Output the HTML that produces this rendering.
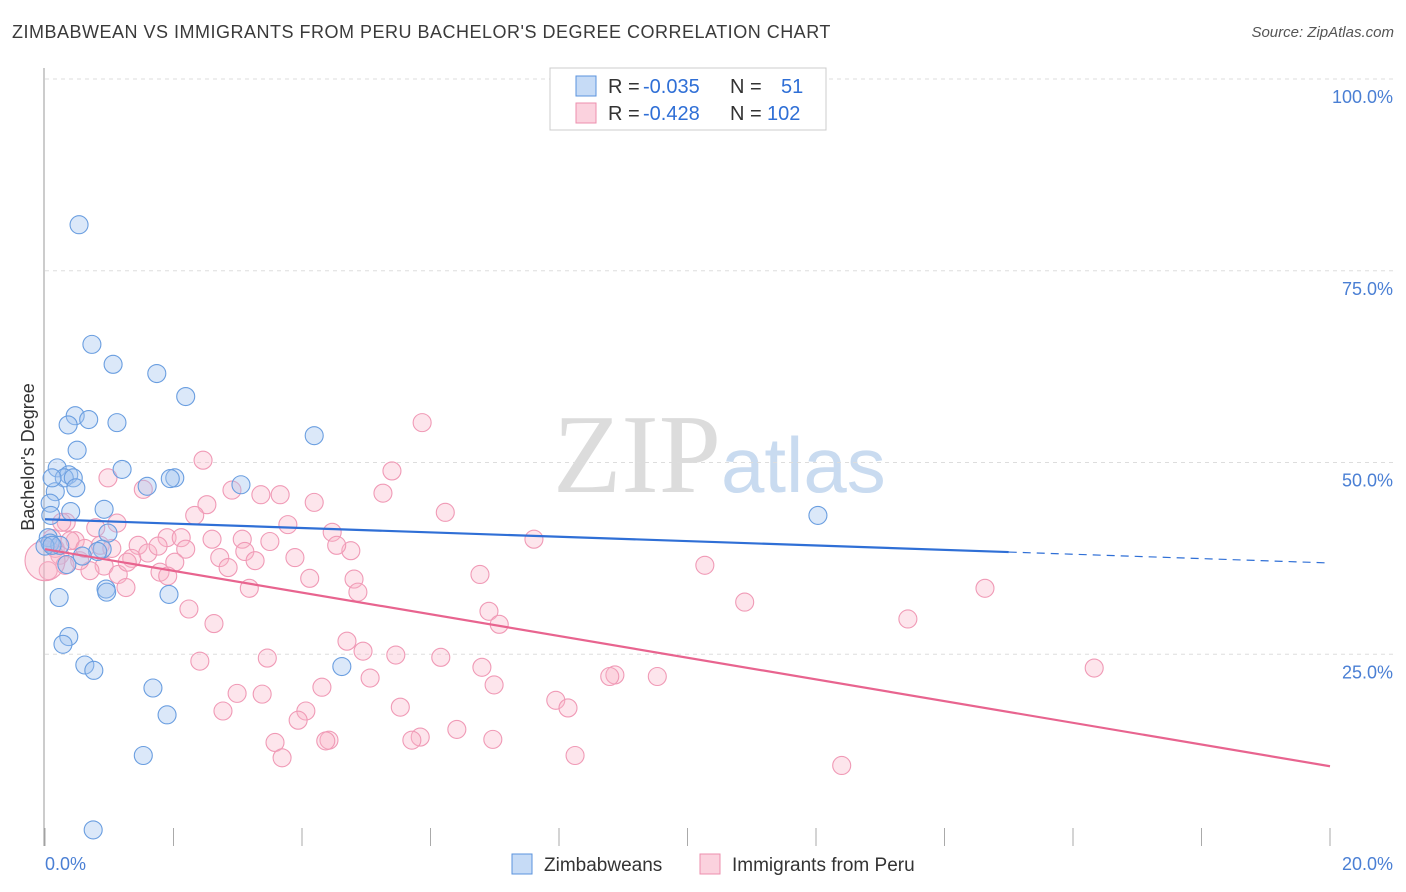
<!DOCTYPE html>
<html><head><meta charset="utf-8">
<style>
body{margin:0;background:#fff;font-family:"Liberation Sans",sans-serif;}
#wrap{position:relative;width:1406px;height:892px;overflow:hidden;}
.title{position:absolute;left:12px;top:22px;font-size:18px;color:#3a3a3a;letter-spacing:0.5px;}
.src{position:absolute;right:12px;top:24px;font-size:15px;color:#555;font-style:italic;}
</style></head>
<body>
<div id="wrap">
<div class="title">ZIMBABWEAN VS IMMIGRANTS FROM PERU BACHELOR'S DEGREE CORRELATION CHART</div>
<div class="src">Source: ZipAtlas.com</div>
<svg id="svg" width="1406" height="892" style="position:absolute;left:0;top:0"></svg>
</div>
<script>
const yTicks=[25,50,75,100];
const yTickLabels=["25.0%","50.0%","75.0%","100.0%"];
const xTickLabels=["0.0%","20.0%"];
const zimX=[0.53,0.73,1.06,1.74,2.19,0.47,0.68,1.12,0.36,4.19,0.50,1.20,0.19,0.37,0.30,0.44,2.02,1.95,1.59,3.05,0.48,0.16,0.11,0.08,0.40,0.92,0.09,0.98,0.05,0.08,0.23,0.0,0.89,0.82,0.58,0.34,0.95,0.96,0.22,1.93,0.37,0.28,0.62,0.76,1.68,4.62,1.90,1.53,0.75,12.03,0.11];
const zimY=[81.0,65.4,62.8,61.6,58.6,56.1,55.6,55.2,54.9,53.5,51.6,49.1,49.3,48.4,48.0,48.0,48.0,47.9,46.9,47.1,46.7,46.2,48.0,44.7,43.6,43.9,43.1,40.8,40.2,39.5,39.2,39.1,38.7,38.4,37.8,36.7,33.5,33.1,32.4,32.8,27.3,26.3,23.6,22.9,20.6,23.4,17.1,11.8,2.1,43.1,39.2];
const peruX=[5.87,5.40,2.46,1.53,5.26,4.19,3.36,3.66,2.91,2.52,6.23,2.33,0.98,1.12,0.79,0.33,3.78,4.47,7.61,2.60,3.07,3.50,1.90,2.12,1.45,2.19,3.11,4.76,4.54,3.89,2.72,3.27,2.85,2.02,1.60,1.35,0.92,1.14,0.70,1.79,1.91,1.26,3.18,4.12,4.81,4.87,6.77,10.27,14.63,2.24,6.91,7.07,10.89,13.43,2.63,4.70,4.95,5.46,6.16,3.46,2.41,6.80,4.31,5.06,6.99,2.99,3.38,8.87,8.79,9.53,16.33,7.95,8.14,2.77,4.06,5.53,3.94,6.41,5.84,5.71,3.58,4.42,4.37,6.97,3.69,8.25,12.40,0.26,0.16,0.47,0.05,0.54,0.23,0.31,0.86,0.39,1.04,1.28,0.11,0.62,1.76,0.0];
const peruY=[55.2,48.9,50.3,46.5,46.0,44.8,45.8,45.8,46.4,44.5,43.5,43.1,48.0,42.1,41.5,42.2,41.9,40.9,40.0,40.0,40.0,39.7,40.2,40.2,39.2,38.7,38.4,38.5,39.2,37.6,37.6,37.2,36.3,37.0,38.2,37.5,36.5,35.4,35.9,35.7,35.2,33.7,33.6,34.9,34.8,33.1,35.4,36.6,33.6,30.9,30.6,28.9,31.8,29.6,29.0,26.7,25.4,24.9,24.6,24.5,24.1,23.3,20.7,21.9,21.0,19.9,19.8,22.3,22.1,22.1,23.2,19.0,18.0,17.6,17.6,18.1,16.4,15.2,14.2,13.8,13.5,13.8,13.7,13.9,11.5,11.8,10.5,42.2,38.8,39.8,35.9,37.2,37.9,36.6,39.2,39.8,38.8,37.0,40.1,38.8,39.1,37.2];
const zimTrend=[42.6,36.9];
const peruTrend=[38.7,10.4];
const zimSolidEnd=15.0;

const NS="http://www.w3.org/2000/svg";
const svg=document.getElementById('svg');
const X0=45,X1=1330,Y0=846,Y100=79;
const sx=v=>X0+(v/20)*(X1-X0);
const sy=v=>Y0+(v/100)*(Y100-Y0);
function mk(t,a){const e=document.createElementNS(NS,t);for(const k in a)e.setAttribute(k,a[k]);svg.appendChild(e);return e;}

let w=mk('text',{x:553,y:492,'font-size':112,'font-family':'Liberation Serif,serif',fill:'#dcdcdc'});


w.innerHTML='ZIP<tspan font-family="Liberation Sans,sans-serif" font-size="78" fill="#c9dbf0">atlas</tspan>';

yTicks.forEach((t,i)=>{
 const g=mk('line',{x1:X0,x2:1393,y1:sy(t),y2:sy(t),stroke:'#dddddd','stroke-dasharray':'4,4'});
 
 
 const l=mk('text',{x:1393,y:sy(t)+24,'text-anchor':'end','font-size':18,fill:'#4a7fd4'});
 
 
 l.textContent=yTickLabels[i];
});
let ax=mk('line',{x1:44,x2:44,y1:68,y2:846,stroke:'#999'});


for(let i=0;i<=10;i++){
 const t=mk('line',{x1:sx(i*2),x2:sx(i*2),y1:828,y2:846,stroke:'#aaa'});
 
 
}
let xl=mk('text',{x:45,y:870,'font-size':18,fill:'#4a7fd4'});


xl.textContent=xTickLabels[0];
let xr=mk('text',{x:1393,y:870,'font-size':18,fill:'#4a7fd4','text-anchor':'end'});


xr.textContent=xTickLabels[1];
let yt=mk('text',{x:34,y:457,'font-size':18,fill:'#333','text-anchor':'middle',transform:'rotate(-90 34 457)'});


yt.textContent="Bachelor's Degree";

peruX.forEach((x,i)=>{
 const big=(i===peruX.length-1);
 const c=mk('circle',{cx:sx(x),cy:sy(peruY[i]),r:big?20:9,fill:'rgba(248,180,200,0.35)',stroke:'#f09ab6','stroke-width':1.1});
 
 
});
zimX.forEach((x,i)=>{
 const c=mk('circle',{cx:sx(x),cy:sy(zimY[i]),r:9,fill:'rgba(160,195,240,0.38)',stroke:'#6a9ee0','stroke-width':1.1});
 
 
});
const zy=x=>zimTrend[0]+(zimTrend[1]-zimTrend[0])*x/20;
let t1=mk('line',{x1:sx(0),y1:sy(zy(0)),x2:sx(zimSolidEnd),y2:sy(zy(zimSolidEnd)),stroke:'#2f6fd6','stroke-width':2.2});


let t2=mk('line',{x1:sx(zimSolidEnd),y1:sy(zy(zimSolidEnd)),x2:sx(20),y2:sy(zy(20)),stroke:'#2f6fd6','stroke-width':1.2,'stroke-dasharray':'8,6'});


let t3=mk('line',{x1:sx(0),y1:sy(peruTrend[0]),x2:sx(20),y2:sy(peruTrend[1]),stroke:'#e8648f','stroke-width':2.2});



let lb=mk('rect',{x:550,y:68,width:276,height:62,fill:'#fff',stroke:'#ccc'});


[[0,'rgba(160,195,240,0.6)','#5b93dd','-0.035','51'],[1,'rgba(248,180,200,0.6)','#ec8fae','-0.428','102']].forEach(r=>{
 const y=76+r[0]*27;
 const s=mk('rect',{x:576,y:y,width:20,height:20,fill:r[1],stroke:r[2]});
 
 
 const t=mk('text',{x:608,y:y+17,'font-size':20,fill:'#333'});
 
 
 t.innerHTML='R = <tspan x="643" fill="#2f6fd6">'+r[3]+'</tspan><tspan x="730">N = </tspan><tspan x="'+(r[4].length>2?767:781)+'" fill="#2f6fd6">'+r[4]+'</tspan>';
});
[[512,'rgba(160,195,240,0.6)','#5b93dd','Zimbabweans'],[700,'rgba(248,180,200,0.6)','#ec8fae','Immigrants from Peru']].forEach(r=>{
 const s=mk('rect',{x:r[0],y:854,width:20,height:20,fill:r[1],stroke:r[2]});
 
 
 const t=mk('text',{x:r[0]+32,y:871,'font-size':19,fill:'#333'});
 
 
 t.textContent=r[3];
});
</script>
</body></html>
